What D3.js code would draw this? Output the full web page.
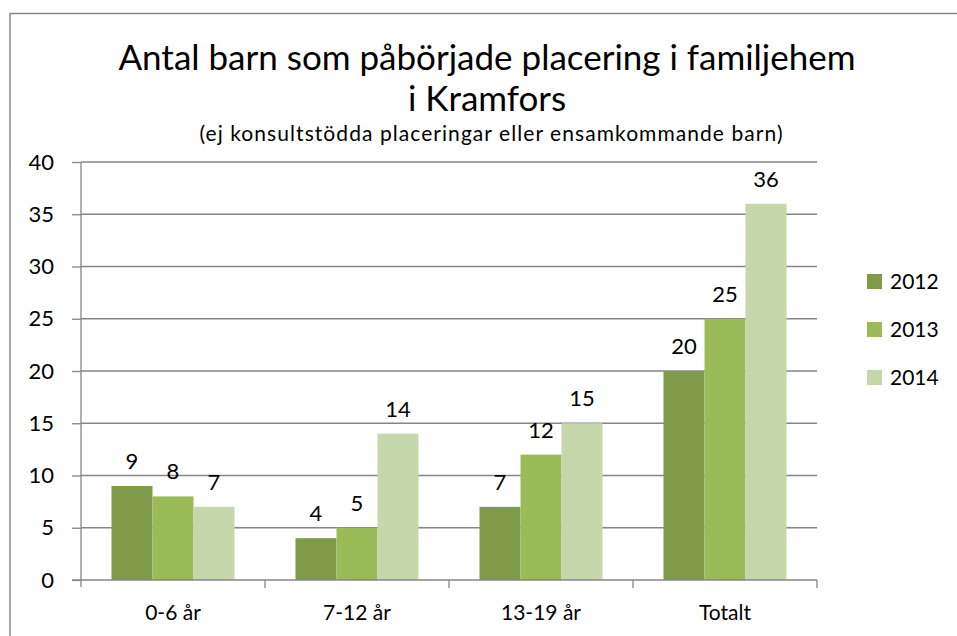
<!DOCTYPE html>
<html>
<head>
<meta charset="utf-8">
<script src="https://cdn.jsdelivr.net/npm/d3@7"></script>
<style>
  body { margin: 0; background: #fff; }
  svg text { font-family: Lato, "Open Sans", sans-serif; fill: #000; }
</style>
</head>
<body>
<svg id="chart" width="957" height="636"></svg>
<script>
// data
var categories = ["0-6 år", "7-12 år", "13-19 år", "Totalt"];
var seriesNames = ["2012", "2013", "2014"];
var values2012 = [9, 4, 7, 20];
var values2013 = [8, 5, 12, 25];
var values2014 = [7, 14, 15, 36];
var yTicks = [0, 5, 10, 15, 20, 25, 30, 35, 40];

var colors = ["#7f9a49", "#9bbb59", "#c6d7ac"];
var allValues = [values2012, values2013, values2014];

var svg = d3.select("#chart");

// outer chart border
svg.append("path")
    .attr("d", "M10,640 L10,13.5 L960,13.5")
    .attr("fill", "none")
    .attr("stroke", "#868686")
    .attr("stroke-width", 1.5);

var plotLeft = 81, plotRight = 817, plotTop = 162, plotBottom = 580;

var x0 = d3.scaleBand().domain(categories).range([plotLeft, plotRight]);
var x1 = d3.scaleBand().domain(seriesNames).range([30.5, x0.bandwidth() - 30.5]);
var y = d3.scaleLinear().domain([0, 40]).range([plotBottom, plotTop]);

// gridlines
svg.append("g").selectAll("line")
    .data(yTicks.filter(function (d) { return d > 0; }))
    .enter().append("line")
    .attr("x1", plotLeft).attr("x2", plotRight)
    .attr("y1", function (d) { return y(d); })
    .attr("y2", function (d) { return y(d); })
    .attr("stroke", "#868686").attr("stroke-width", 1.3);

// bars
var groups = svg.append("g").selectAll("g")
    .data(categories)
    .enter().append("g")
    .attr("transform", function (d) { return "translate(" + x0(d) + ",0)"; });

groups.each(function (cat, ci) {
    var g = d3.select(this);
    seriesNames.forEach(function (s, si) {
        var v = allValues[si][ci];
        g.append("rect")
            .attr("x", x1(s))
            .attr("y", y(v))
            .attr("width", x1.bandwidth())
            .attr("height", y(0) - y(v))
            .attr("fill", colors[si]);
        g.append("text")
            .attr("x", x1(s) + x1.bandwidth() / 2)
            .attr("y", y(v) - 17)
            .attr("text-anchor", "middle")
            .attr("font-size", 22)
            .text(v);
    });
});

// y axis
var yAxis = d3.axisLeft(y).tickValues(yTicks).tickSize(9).tickPadding(18);
var yg = svg.append("g").attr("transform", "translate(" + plotLeft + ",0)").call(yAxis);
yg.select(".domain").attr("d", "M0," + plotTop + "V" + (plotBottom + 7));
yg.selectAll("line, .domain").attr("stroke", "#868686").attr("stroke-width", 1.3);
yg.selectAll("text").attr("font-size", 22).attr("font-family", "Lato, sans-serif");

// x axis
var xg = svg.append("g").attr("transform", "translate(0," + plotBottom + ")");
xg.append("line").attr("x1", plotLeft - 9).attr("x2", plotRight)
    .attr("stroke", "#868686").attr("stroke-width", 1.3);
xg.selectAll(".tk")
    .data(categories)
    .enter().append("line")
    .attr("x1", function (d) { return x0(d) + x0.bandwidth(); })
    .attr("x2", function (d) { return x0(d) + x0.bandwidth(); })
    .attr("y1", 0).attr("y2", 8)
    .attr("stroke", "#868686").attr("stroke-width", 1.3);
xg.selectAll(".lbl")
    .data(categories)
    .enter().append("text")
    .attr("x", function (d) { return x0(d) + x0.bandwidth() / 2; })
    .attr("y", 40)
    .attr("text-anchor", "middle")
    .attr("font-size", 21)
    .text(function (d) { return d; });

// title
svg.append("text").attr("x", 487).attr("y", 70).attr("text-anchor", "middle")
    .attr("font-size", 35).text("Antal barn som påbörjade placering i familjehem");
svg.append("text").attr("x", 487).attr("y", 111).attr("text-anchor", "middle")
    .attr("font-size", 35).text("i Kramfors");
svg.append("text").attr("x", 491).attr("y", 141).attr("text-anchor", "middle")
    .attr("font-size", 21).attr("textLength", 583).attr("lengthAdjust", "spacing")
    .text("(ej konsultstödda placeringar eller ensamkommande barn)");

// legend
var legend = svg.append("g").selectAll("g")
    .data(seriesNames)
    .enter().append("g")
    .attr("transform", function (d, i) { return "translate(867," + (274 + i * 48) + ")"; });
legend.append("rect").attr("width", 15).attr("height", 15)
    .attr("fill", function (d, i) { return colors[i]; });
legend.append("text").attr("x", 23).attr("y", 15).attr("font-size", 21)
    .text(function (d) { return d; });
</script>
</body>
</html>
